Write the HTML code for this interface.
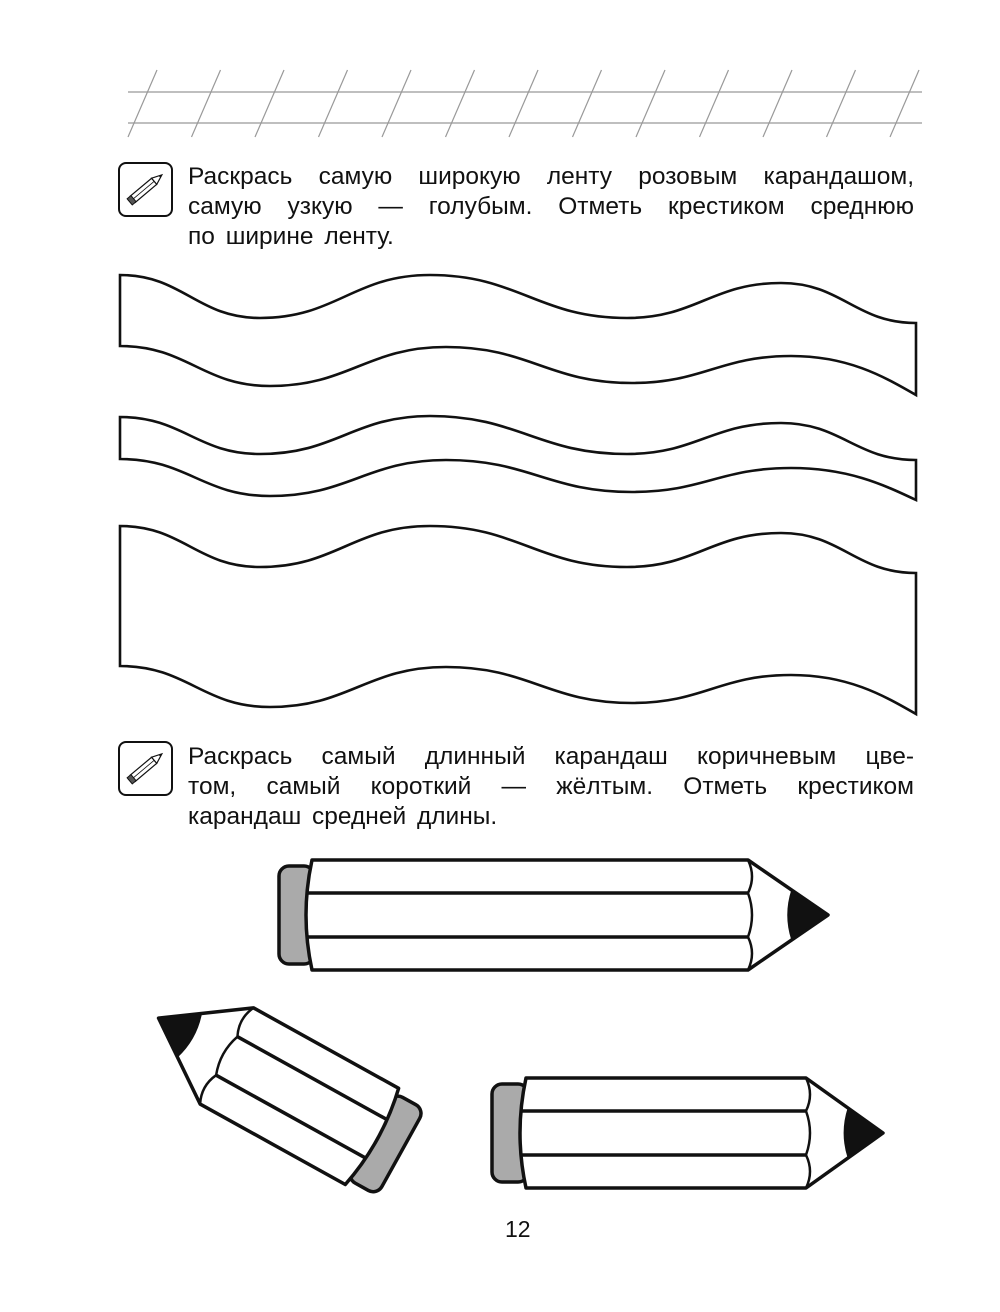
<!DOCTYPE html>
<html><head><meta charset="utf-8"><style>
html,body{margin:0;padding:0;background:#fff}
body{width:1000px;height:1312px;position:relative;overflow:hidden;font-family:"Liberation Sans",sans-serif;color:#111}
.t{position:absolute;left:188px;width:726px;font-size:24.5px;line-height:30px;text-align:justify;text-align-last:justify;word-spacing:4px}
.t .l{display:block;text-align:justify;text-align-last:justify}
.t .l.last{text-align-last:left}
svg{position:absolute;left:0;top:0}
</style></head><body>
<svg id="s" width="1000" height="1312" viewBox="0 0 1000 1312"></svg>
<div class="t" style="top:162px"><span class="l">Раскрась самую широкую ленту розовым карандашом,</span><span class="l">самую узкую — голубым. Отметь крестиком среднюю</span><span class="l last">по ширине ленту.</span></div>
<div class="t" style="top:742px"><span class="l">Раскрась самый длинный карандаш коричневым цве-</span><span class="l">том, самый короткий — жёлтым. Отметь крестиком</span><span class="l last">карандаш средней длины.</span></div>
<div style="position:absolute;left:505px;top:1216px;font-size:23px">12</div>
<script>
var s=document.getElementById('s'),h='';
h+='<line x1="128" y1="92" x2="922" y2="92" stroke="#aaa" stroke-width="1.5"/><line x1="128" y1="123" x2="922" y2="123" stroke="#aaa" stroke-width="1.5"/>';
for(var x=157;x<960;x+=63.5){h+='<line x1="'+x+'" y1="70" x2="'+(x-29)+'" y2="137" stroke="#999" stroke-width="1.2"/>';}
function icon(y){return '<g transform="translate(118,'+y+')"><rect x="1" y="1" width="53" height="53" rx="7" fill="#fff" stroke="#111" stroke-width="2"/><g transform="translate(27,27) rotate(-40)"><rect x="-16" y="-4" width="28" height="8" fill="#fff" stroke="#111" stroke-width="1.2"/><rect x="-20" y="-4" width="5" height="8" fill="#555" stroke="#111" stroke-width="1"/><line x1="-15" y1="0" x2="12" y2="0" stroke="#111" stroke-width="0.8"/><path d="M12,-4 L22,0 L12,4Z" fill="#fff" stroke="#111" stroke-width="1.2"/><path d="M19,-1.2 L22,0 L19,1.2Z" fill="#111"/></g></g>';}
h+=icon(162)+icon(741);
// path through extrema with horizontal tangents
function hz(p,steepEnd){var d='';for(var i=0;i<p.length-1;i++){var a=p[i],b=p[i+1],dx=(b[0]-a[0])*0.45;
var c2=[b[0]-dx,b[1]];if(steepEnd&&i==p.length-2)c2=[b[0]-dx*0.6,b[1]-(b[1]-a[1])*0.5];
d+=(i==0?'M'+a:'')+' C'+[a[0]+dx,a[1]]+' '+c2+' '+b;}return d;}
function hzr(p,steepStart){var d='';for(var i=0;i<p.length-1;i++){var a=p[i],b=p[i+1],dx=(b[0]-a[0])*0.45;
var c1=[a[0]+dx,a[1]];if(steepStart&&i==0)c1=[a[0]+dx*0.6,a[1]+(b[1]-a[1])*0.5];
d+=' C'+c1+' '+[b[0]-dx,b[1]]+' '+b;}return d;}
function rib(top,bot){var tb=bot.slice().reverse();
h+='<path d="'+hz(top)+' L'+tb[0]+hzr(tb,true)+' Z" fill="#fff" stroke="#111" stroke-width="2.6"/>';}
rib([[120,275],[260,318],[430,275],[627,318],[781,283],[916,323]],[[120,346],[270,386],[446,347],[632,383],[791,356],[916,395]]);
rib([[120,417],[260,454],[430,416],[627,454],[781,423],[916,460]],[[120,459],[270,496],[446,460],[632,492],[791,468],[916,500]]);
rib([[120,526],[260,567],[430,526],[627,567],[781,533],[916,573]],[[120,666],[270,707],[446,667],[632,703],[791,675],[916,714]]);
function pencil(x0,x1,x2,x3,yt,yb,tr){var ym=(yt+yb)/2,a=(yb-yt)/3,s1=yt+a*0.9,s2=yb-a*0.9,g='<g transform="'+(tr||'')+'" stroke="#111" stroke-width="3.5" stroke-linejoin="round">';
g+='<rect x="'+x0+'" y="'+(yt+6)+'" width="'+(x1-x0+10)+'" height="'+(yb-yt-12)+'" rx="10" fill="#aaa"/>';
g+='<path d="M'+(x1+8)+','+yt+' L'+x2+','+yt+' L'+x3+','+ym+' L'+x2+','+yb+' L'+(x1+8)+','+yb+' Q'+(x1-4)+','+ym+' '+(x1+8)+','+yt+'Z" fill="#fff"/>';
g+='<line x1="'+(x1+2)+'" y1="'+s1+'" x2="'+x2+'" y2="'+s1+'"/><line x1="'+(x1+2)+'" y1="'+s2+'" x2="'+x2+'" y2="'+s2+'"/>';
g+='<path d="M'+x2+','+yt+' q8,'+(s1-yt)/2+' 0,'+(s1-yt)+' q8,'+(s2-s1)/2+' 0,'+(s2-s1)+' q8,'+(yb-s2)/2+' 0,'+(yb-s2)+'" fill="none" stroke-width="2.5"/>';
var k=0.55,xl=x2+(x3-x2)*k,hh=(yb-yt)/2*(1-k);
g+='<path d="M'+xl+','+(ym-hh)+' L'+x3+','+ym+' L'+xl+','+(ym+hh)+' Q'+(xl-8)+','+ym+' '+xl+','+(ym-hh)+'Z" fill="#111" stroke-width="1.5"/>';
return g+'</g>';}
h+=pencil(279,304,748,828,860,970);
h+=pencil(492,518,806,883,1078,1188);
h+=pencil(-137,-112,62,140,-55,55,'translate(281,1086) rotate(209)');
s.innerHTML=h;
</script>
</body></html>
